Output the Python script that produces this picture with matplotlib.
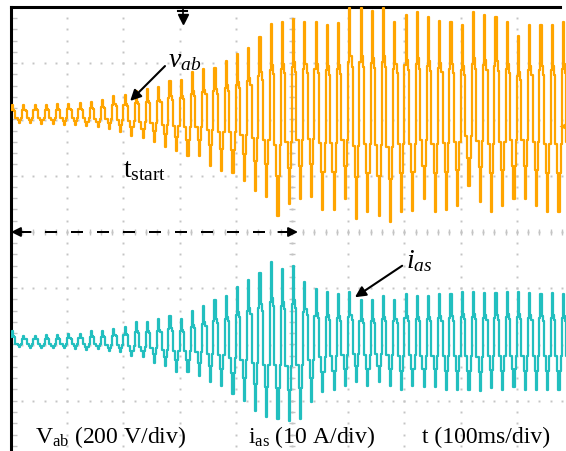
import matplotlib
matplotlib.use("Agg")
import matplotlib.pyplot as plt
import numpy as np

plt.rcParams['font.family'] = ['Liberation Serif', 'DejaVu Serif']
plt.rcParams['mathtext.fontset'] = 'custom'
plt.rcParams['mathtext.rm'] = 'Liberation Serif'
plt.rcParams['mathtext.it'] = 'Liberation Serif:italic'

# ---- data (oscilloscope divisions) ----
cycles_per_div = 5                      # 50 Hz at 100 ms/div
# per-cycle positive / negative peaks of v_ab (div, relative to trace centre)
vab_top = [0.17, 0.17, 0.18, 0.18, 0.19, 0.20, 0.21, 0.24, 0.27, 0.34,
           0.36, 0.43, 0.46, 0.50, 0.60, 0.62, 0.76, 0.82, 0.84, 0.96,
           1.08, 1.20, 1.38, 1.61, 1.65, 1.70, 1.65, 1.65, 1.60, 1.63,
           1.90, 1.90, 1.85, 1.90, 1.65, 1.77, 1.83, 1.75, 1.68, 1.65,
           1.60, 1.83, 1.77, 1.74, 1.65, 1.40, 1.60, 1.60, 1.60, 1.65]
vab_bot = [0.15, 0.15, 0.16, 0.16, 0.17, 0.18, 0.20, 0.22, 0.25, 0.30,
           0.37, 0.40, 0.48, 0.57, 0.64, 0.73, 0.73, 0.90, 1.00, 1.03,
           1.17, 1.35, 1.46, 1.80, 1.58, 1.50, 1.45, 1.68, 1.68, 1.50,
           1.84, 1.73, 1.80, 1.90, 1.73, 1.70, 1.50, 1.73, 1.68, 1.62,
           1.26, 1.55, 1.73, 1.62, 1.50, 1.50, 1.62, 1.73, 1.73, 1.60]
# per-cycle positive / negative peaks of i_as
ias_top = [0.20, 0.12, 0.12, 0.13, 0.13, 0.14, 0.15, 0.20, 0.20, 0.23,
           0.27, 0.36, 0.36, 0.41, 0.46, 0.41, 0.55, 0.64, 0.76, 0.82,
           0.98, 1.10, 1.23, 1.42, 1.30, 1.35, 1.07, 0.94, 0.89, 0.85,
           0.89, 0.76, 0.76, 0.82, 0.76, 0.85, 0.82, 0.82, 0.85, 0.85,
           0.90, 0.90, 0.88, 0.88, 0.90, 0.90, 0.88, 0.85, 0.88, 0.85]
ias_bot = [0.08, 0.10, 0.10, 0.10, 0.11, 0.12, 0.13, 0.12, 0.16, 0.18,
           0.25, 0.27, 0.36, 0.43, 0.52, 0.53, 0.60, 0.71, 0.78, 0.92,
           1.05, 1.23, 1.32, 1.37, 1.40, 1.37, 1.07, 0.89, 0.84, 0.78,
           0.71, 0.78, 0.71, 0.78, 0.84, 0.78, 0.80, 0.80, 0.84, 0.84,
           0.84, 0.87, 0.82, 0.84, 0.80, 0.84, 0.84, 0.84, 0.84, 0.82]
# multilevel step pattern inside one cycle (fraction of the peak)
step_pattern = [0.5, 1.0, 0.55, 0.45, -0.3, -0.3, -0.6, -1.0, -0.6, -0.3]
vab_offset = 2.08
ias_offset = -1.96

labels_bottom = [r'$\mathrm{V}_{\mathrm{ab}}$ (200 V/div)',
                 r'$\mathrm{i}_{\mathrm{as}}$ (10 A/div)',
                 't (100ms/div)']

# ---- figure ----
W, H = 566, 452
fig = plt.figure(figsize=(W / 100, H / 100), dpi=100)
ax = fig.add_axes([11 / W, (H - 458) / H, 562 / W, 450 / H])
ax.set_xlim(0, 10)
ax.set_ylim(-4, 4)
ax.set_xticks([]); ax.set_yticks([])
for s in ['right', 'bottom']:
    ax.spines[s].set_visible(False)
for s in ['left', 'top']:
    ax.spines[s].set_linewidth(2.2)
ax.spines['top'].set_bounds(0, (560 - 11) / 56.2)

grid_c = '#c4c4c4'
fine = np.arange(0, 10.001, 0.2)
fine_y = np.arange(-4, 4.001, 0.2)
for i in range(1, 10):
    ax.plot(np.full_like(fine_y, i), fine_y, ls='', marker='s', ms=1.4, mec='none', mfc=grid_c, zorder=1)
for j in range(-3, 4):
    ax.plot(fine, np.full_like(fine, j), ls='', marker='s', ms=1.4, mec='none', mfc=grid_c, zorder=1)
# centre tick marks
ax.plot(np.full_like(fine_y, 5), fine_y, ls='', marker='_', ms=5, mew=1.0, color=grid_c, zorder=1)
ax.plot(fine, np.zeros_like(fine), ls='', marker='|', ms=5, mew=1.0, color=grid_c, zorder=1)
ax.plot(np.full_like(fine_y, 0.06), fine_y, ls='', marker='_', ms=4, mew=1.0, color=grid_c, zorder=1)


def build(top, bot, offset):
    n = len(step_pattern)
    t, v = [], []
    for k in range(len(top)):
        for s, p in enumerate(step_pattern):
            t.append((k + s / n) / cycles_per_div)
            v.append(offset + p * (top[k] if p > 0 else bot[k]))
    t.append(len(top) / cycles_per_div)
    v.append(v[-1])
    return np.array(t), np.array(v)

tv, vv = build(vab_top, vab_bot, vab_offset)
ti, vi = build(ias_top, ias_bot, ias_offset)
ax.plot(tv, vv, drawstyle='steps-post', color='#FFA500', lw=1.6, zorder=3)
ax.plot(ti, vi, drawstyle='steps-post', color='#22BFBF', lw=1.6, zorder=3)

# markers
ax.plot([9.87], [1.88], marker='<', ms=10, color='#FFA500', mec='none', zorder=4, clip_on=False)
ax.plot([3.06, 3.06], [4.0, 3.8], color='black', lw=1.2, zorder=4)
ax.plot([3.06], [3.78], marker='v', ms=7, color='black', zorder=4)
ax.plot([2.98, 3.14], [3.93, 3.93], color='black', lw=1.5, zorder=4)

# dashed double arrow t_start
x_end = (298 - 11) / 56.2
ax.plot([0.15, x_end - 0.15], [0, 0], color='black', lw=1.44, dashes=(6, 7), zorder=5)
ax.annotate('', xy=(0.0, 0), xytext=(0.35, 0),
            arrowprops=dict(arrowstyle='-|>', color='black', lw=1.4, mutation_scale=14, shrinkA=0, shrinkB=0), zorder=5)
ax.annotate('', xy=(x_end, 0), xytext=(x_end - 0.35, 0),
            arrowprops=dict(arrowstyle='-|>', color='black', lw=1.4, mutation_scale=14, shrinkA=0, shrinkB=0), zorder=5)

fs = 17
ax.text(2.79, 2.95, r'$v_{ab}$', fontsize=20, ha='left', va='baseline', zorder=6)
ax.annotate('', xy=(2.12, 2.33), xytext=(2.74, 2.95),
            arrowprops=dict(arrowstyle='-|>', color='black', lw=1.5, mutation_scale=16, shrinkA=0, shrinkB=0), zorder=6)
ax.text(1.99, 1.0, r'$\mathrm{t}_{\mathrm{start}}$', fontsize=20, ha='left', va='baseline', zorder=6)
ax.text(7.03, -0.62, r'$i_{as}$', fontsize=20, ha='left', va='baseline', zorder=6)
ax.annotate('', xy=(6.12, -1.16), xytext=(6.96, -0.6),
            arrowprops=dict(arrowstyle='-|>', color='black', lw=1.5, mutation_scale=16, shrinkA=0, shrinkB=0), zorder=6)

for x, lab in zip([0.43, 4.22, 7.31], labels_bottom):
    ax.text(x, -3.73, lab, fontsize=fs, ha='left', va='baseline', zorder=6)

fig.savefig('out.png', dpi=100)
